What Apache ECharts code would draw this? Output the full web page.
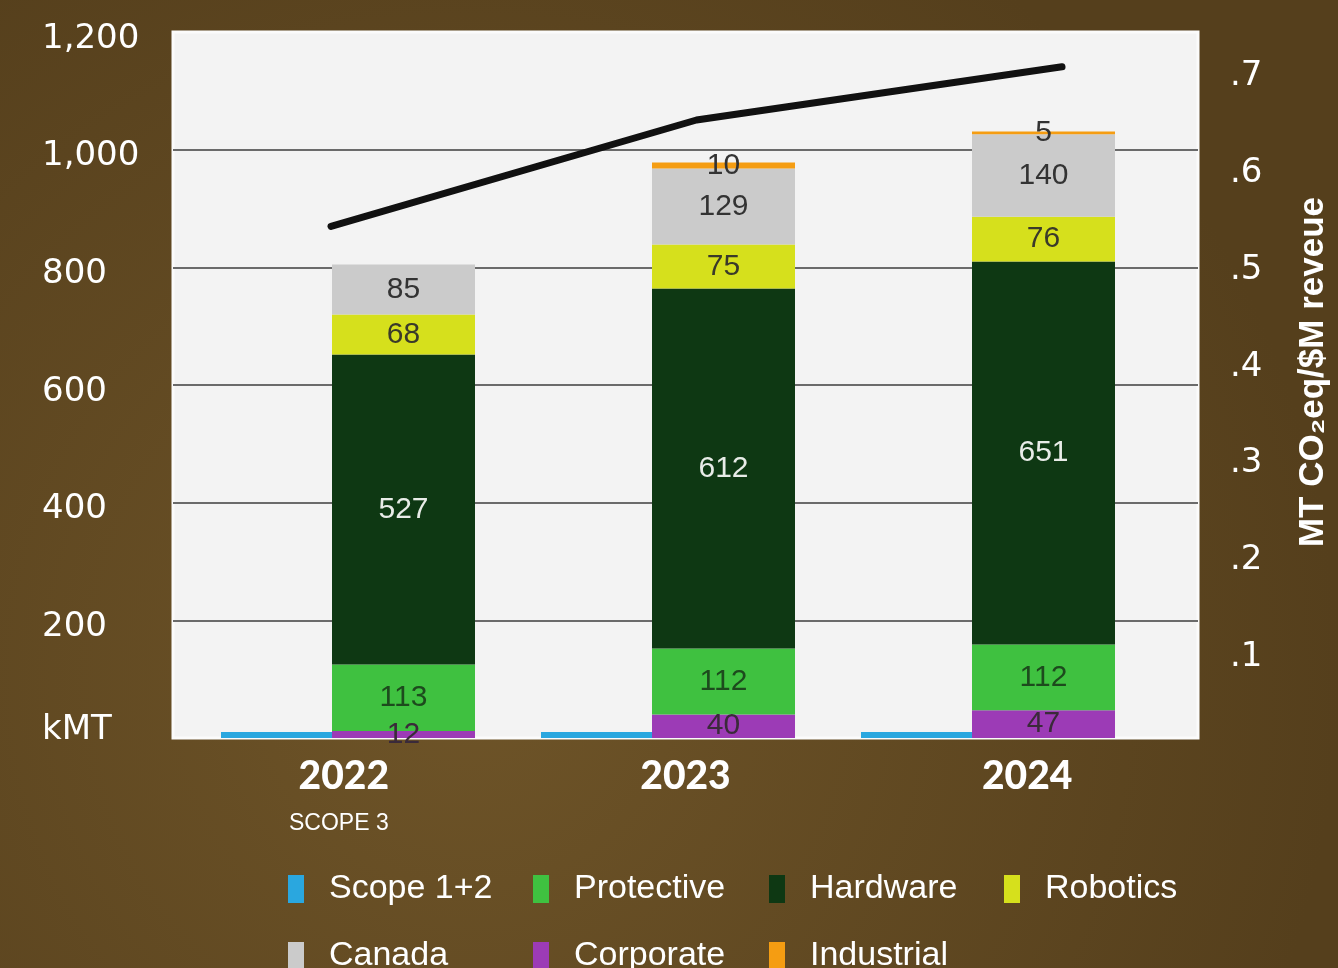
<!DOCTYPE html>
<html>
<head>
<meta charset="utf-8">
<script src="https://cdn.jsdelivr.net/npm/echarts@6/dist/echarts.min.js"></script>
<style>
  html, body { margin: 0; padding: 0; }
  #chart { width: 1338px; height: 968px; }
</style>
</head>
<body>
<div id="chart"></div>
<script>
// data
const years = ['2022', '2023', '2024'];
const scope12 = [10, 10, 10];
const corporate = [12, 40, 47];
const protective = [113, 112, 112];
const hardware = [527, 612, 651];
const robotics = [68, 75, 76];
const canada = [85, 129, 140];
const industrial = [0, 10, 5];
const intensity = [0.54, 0.65, 0.705];   // MT CO2eq / $M revenue
const rightTicks = [0.1, 0.2, 0.3, 0.4, 0.5, 0.6, 0.7];

const chart = echarts.init(document.getElementById('chart'));

const white = '#ffffff';
const labelFont = 'Liberation Sans';

// bar label helper
function barLabel(color) {
    return {
        show: true,
        position: 'inside',
        fontSize: 30,
        fontFamily: labelFont,
        color: color,
        formatter: p => (p.value ? String(p.value) : '')
    };
}

function stackSeries(name, data, color, txt) {
    return {
        name: name,
        type: 'bar',
        stack: 'scope3',
        xAxisIndex: 1,
        yAxisIndex: 2,
        barWidth: 143,
        data: data,
        itemStyle: { color: color },
        label: barLabel(txt)
    };
}

// one legend per item so the columns line up like the original
function legendItem(name, left, top) {
    return {
        left: left,
        top: top,
        padding: 0,
        itemWidth: 16,
        itemHeight: 28,
        icon: 'rect',
        selectedMode: false,
        data: [name],
        textStyle: {
            color: white,
            fontSize: 34,
            fontFamily: labelFont,
            padding: [0, 0, 0, 20]
        }
    };
}

const option = {
    backgroundColor: new echarts.graphic.RadialGradient(0.35, 0.7, 0.9, [
        { offset: 0, color: '#6e5428' },
        { offset: 1, color: '#553f1c' }
    ]),
    animation: false,
    grid: [
        // plot frame, gridlines, axes and labels
        { left: 173, right: 140, top: 32, bottom: 230, show: true, outerBoundsMode: 'none',
          backgroundColor: '#f3f3f3', borderColor: '#fbfbfb', borderWidth: 3 },
        // bars
        { left: 188, width: 960, top: 32, bottom: 230, outerBoundsMode: 'none' },
        // line
        { left: 331, width: 731, top: 32, bottom: 230, outerBoundsMode: 'none' }
    ],
    legend: [
        legendItem('Scope 1+2', 288, 872),
        legendItem('Protective', 533, 872),
        legendItem('Hardware', 769, 872),
        legendItem('Robotics', 1004, 872),
        legendItem('Canada', 288, 939),
        legendItem('Corporate', 533, 939),
        legendItem('Industrial', 769, 939)
    ],
    graphic: [{
        type: 'text',
        left: 289,
        top: 812,
        style: {
            text: 'SCOPE 3',
            fill: white,
            font: '23px "Liberation Sans"'
        }
    }],
    xAxis: [
        {
            gridIndex: 0,
            type: 'category',
            data: years,
            axisLine: { show: false },
            axisTick: { show: false },
            axisLabel: {
                color: white,
                fontSize: 39,
                fontWeight: 900,
                fontFamily: 'Lato',
                margin: 19
            }
        },
        { gridIndex: 1, type: 'category', data: years, show: false },
        { gridIndex: 2, type: 'category', data: years, show: false, boundaryGap: false }
    ],
    yAxis: [
        {
            gridIndex: 0,
            type: 'value',
            min: 0,
            max: 1200,
            interval: 200,
            position: 'left',
            axisLine: { show: false },
            axisTick: { show: false },
            splitLine: {
                lineStyle: {
                    color: ['rgba(0,0,0,0)', '#6a6a6a', '#6a6a6a', '#6a6a6a', '#6a6a6a', '#6a6a6a', 'rgba(0,0,0,0)'],
                    width: 2
                }
            },
            axisLabel: {
                align: 'left',
                margin: 131,
                formatter: v => (v === 0 ? '{k|kMT}' : '{n|' + v.toLocaleString('en-US') + '}'),
                rich: {
                    n: { color: white, fontSize: 34, fontFamily: 'DejaVu Sans', padding: [14, 0, 0, 0] },
                    k: { color: white, fontSize: 34, fontFamily: 'DejaVu Sans', padding: [0, 0, 16, 0] }
                }
            }
        },
        {
            gridIndex: 0,
            type: 'value',
            position: 'right',
            min: 0.011,
            max: 0.741,
            axisLine: { show: false },
            axisTick: { show: false },
            splitLine: { show: false },
            axisLabel: {
                customValues: rightTicks,
                margin: 32,
                formatter: v => '{r|' + String(v).replace(/^0/, '') + '}',
                rich: {
                    r: { color: white, fontSize: 34, fontFamily: 'DejaVu Sans', padding: [10, 0, 0, 0] }
                }
            },
            name: 'MT CO\u2082eq/$M reveue',
            nameLocation: 'middle',
            nameGap: 98,
            nameTextStyle: {
                color: white,
                fontSize: 35,
                fontWeight: 'bold',
                fontFamily: labelFont,
                padding: [0, 0, 0, 26]
            }
        },
        { gridIndex: 1, type: 'value', min: 0, max: 1200, show: false },
        { gridIndex: 2, type: 'value', min: 0.011, max: 0.741, show: false }
    ],
    series: [
        {
            name: 'Scope 1+2',
            type: 'bar',
            xAxisIndex: 1,
            yAxisIndex: 2,
            barWidth: 111,
            barGap: '0%',
            data: scope12,
            itemStyle: { color: '#2aa7df' }
        },
        stackSeries('Corporate', corporate, '#9c3bb6', '#3a2a3a'),
        stackSeries('Protective', protective, '#3fc140', '#1d4a1d'),
        stackSeries('Hardware', hardware, '#0e3813', '#e8ece8'),
        stackSeries('Robotics', robotics, '#d6e01c', '#3a3a2a'),
        stackSeries('Canada', canada, '#cbcbcb', '#333333'),
        stackSeries('Industrial', industrial, '#f59d12', '#333333'),
        {
            name: 'Intensity',
            type: 'line',
            xAxisIndex: 2,
            yAxisIndex: 3,
            data: intensity,
            symbol: 'none',
            lineStyle: { color: '#111111', width: 7, cap: 'round' },
            z: 5
        }
    ]
};

chart.setOption(option);
</script>
</body>
</html>
